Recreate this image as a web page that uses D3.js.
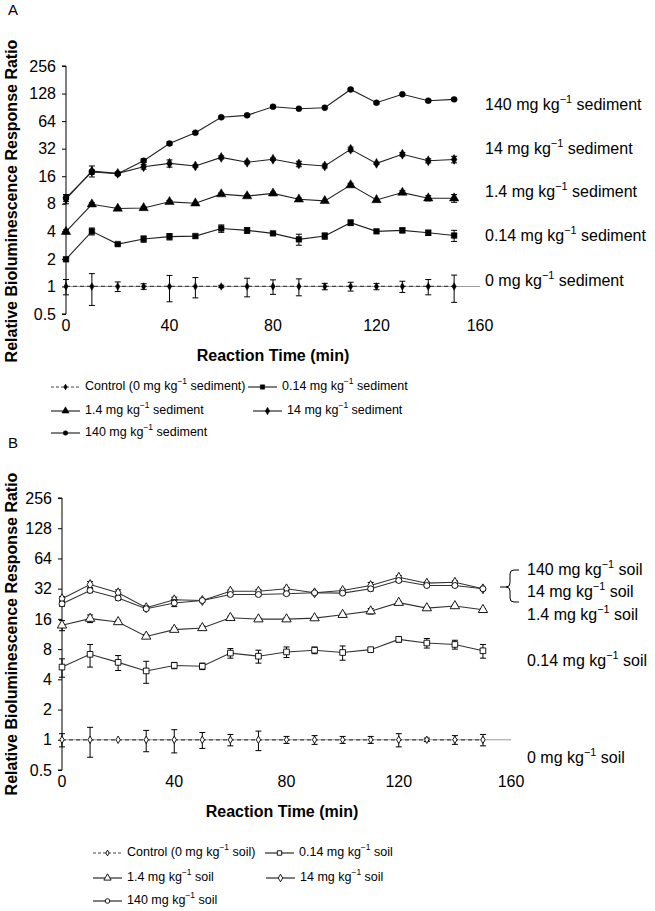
<!DOCTYPE html>
<html><head><meta charset="utf-8">
<script src="https://cdn.jsdelivr.net/npm/d3@7"></script>
<style>
html,body{margin:0;padding:0;background:#fff;}
svg{display:block;font-family:"Liberation Sans",Arial,Helvetica,sans-serif;}
</style></head>
<body>
<svg id="chart" width="655" height="911"></svg>
<script>
// ---------- DATA ----------
const times = [0,10,20,30,40,50,60,70,80,90,100,110,120,130,140,150];
const xTicks = [0,40,80,120,160];
const yTicks = [0.5,1,2,4,8,16,32,64,128,256];

// Panel A: sediment
const sedCtrl    = [1,1,1,1,1,1,1,1,1,1,1,1,1,1,1,1];
const sedCtrlErr = [0.19,0.38,0.12,0.07,0.32,0.25,0.03,0.23,0.18,0.21,0.08,0.11,0.08,0.14,0.19,0.33];
const sed014     = [1.98,4.0,2.9,3.3,3.5,3.55,4.3,4.1,3.8,3.27,3.56,4.97,4.0,4.1,3.86,3.6];
const sed014Err  = [0.1,0.35,0.08,0.26,0.28,0.08,0.4,0.3,0.1,0.45,0.28,0.35,0.1,0.25,0.25,0.5];
const sed1_4     = [3.96,7.9,7.1,7.2,8.4,8.1,10.2,9.7,10.4,8.95,8.6,12.8,8.8,10.6,9.2,9.2];
const sed1_4Err  = [0.2,0.3,0.2,0.2,0.3,0.2,0.3,0.3,0.3,0.3,0.2,0.6,0.2,0.5,0.6,0.9];
const sed14      = [9.0,18.2,17.2,20.3,22.1,20.7,25.7,22.7,24.5,21.8,20.7,31.5,22.1,27.8,23.6,24.4];
const sed14Err   = [1.0,2.5,0.6,1.2,2.0,0.6,1.0,0.8,0.7,1.5,1.0,1.8,0.6,1.3,1.2,2.0];
const sed140     = [9.3,17.8,17.0,23.6,36.5,47.8,70.4,74,92,87.5,89.7,142,101.6,125.5,107,110.6];
const sed140Err  = [0.8,0.9,0.5,1,1.5,1.5,2,2,3,2,2,4,3,3,3,3];

// Panel B: soil
const soilCtrl    = [1,1,1,1,1,1,1,1,1,1,1,1,1,1,1,1];
const soilCtrlErr = [0.15,0.33,0.02,0.24,0.26,0.18,0.13,0.22,0.08,0.1,0.08,0.08,0.15,0.04,0.1,0.13];
const soil014     = [5.3,7.1,5.9,4.85,5.5,5.4,7.3,6.8,7.5,7.8,7.4,7.9,10.0,9.2,8.9,7.7];
const soil014Err  = [1.1,1.8,1.0,1.2,0.4,0.4,0.8,1.0,0.9,0.6,1.2,0.3,0.6,1.0,0.9,1.2];
const soil1_4     = [13.8,16.1,14.9,10.7,12.5,13.0,16.4,15.9,15.9,16.3,17.6,19.1,23.2,20.5,21.5,19.7];
const soil1_4Err  = [1.6,1.4,0.6,0.4,0.5,0.6,0.6,0.4,0.5,0.4,0.6,1.2,0.7,0.5,0.6,0.6];
const soil14      = [25.4,35.2,29.1,20.7,24.8,24.4,30.2,30.2,31.9,29.1,30.7,34.4,41.6,36.3,37.1,31.9];
const soil14Err   = [1.2,2.5,2.0,0.8,1.5,0.6,0.8,1.2,1.0,0.8,1.0,2.5,1.5,1.0,1.2,1.0];
const soil140     = [22.6,30.7,25.8,20.2,23.0,24.4,28.0,28.0,28.5,29.1,28.9,31.9,38.6,34.4,34.4,31.9];
const soil140Err  = [1.2,1.5,1.2,0.8,1.8,0.8,1.0,1.0,1.0,0.8,1.0,1.5,1.5,1.0,1.0,1.0];

const sedLegend  = ["Control (0 mg kg|−1| sediment)","0.14 mg kg|−1| sediment","1.4 mg kg|−1| sediment","14 mg kg|−1| sediment","140 mg kg|−1| sediment"];
const soilLegend = ["Control (0 mg kg|−1| soil)","0.14 mg kg|−1| soil","1.4 mg kg|−1| soil","14 mg kg|−1| soil","140 mg kg|−1| soil"];
const sedLabels  = ["0 mg kg|−1| sediment","0.14 mg kg|−1| sediment","1.4 mg kg|−1| sediment","14 mg kg|−1| sediment","140 mg kg|−1| sediment"];
const soilLabels = ["0 mg kg|−1| soil","0.14 mg kg|−1| soil","1.4 mg kg|−1| soil","14 mg kg|−1| soil","140 mg kg|−1| soil"];

// ---------- DRAWING ----------
const svg = d3.select("#chart");
const symTypes = [d3.symbolDiamond, d3.symbolSquare, d3.symbolTriangle, d3.symbolDiamond, d3.symbolCircle];
const symSizes = [16, 32, 38, 28, 28];

function supText(sel, str, fs) {
  const parts = str.split("|");
  sel.append("tspan").text(parts[0]);
  sel.append("tspan").text(parts[1]).attr("font-size", fs*0.68).attr("dy", -fs*0.38);
  sel.append("tspan").text(parts[2]).attr("dy", fs*0.38);
}

function drawPanel(cfg) {
  const g = svg.append("g");
  const x = d3.scaleLinear().domain([0,160]).range([cfg.x0, cfg.x1]);
  const y = d3.scaleLog().base(2).domain([0.5,256]).range([cfg.yb, cfg.yt]);

  g.append("text").attr("x", 8).attr("y", cfg.labelY).attr("font-size", 15).text(cfg.label);

  // y axis
  const yAxis = g.append("g").attr("transform", `translate(${cfg.x0},0)`)
    .call(d3.axisLeft(y).tickValues(yTicks).tickFormat(d => String(d)).tickSize(4).tickPadding(6));
  yAxis.select(".domain").attr("stroke", "#000").attr("d", `M-4,${cfg.yt}H0V${cfg.yb}H-4`);
  yAxis.selectAll(".tick line").attr("stroke", "#000");
  yAxis.selectAll("text").attr("font-size", 16).attr("font-family", "Liberation Sans, Arial, sans-serif").attr("fill", "#000");

  // x axis line at y = 1, labels at bottom
  g.append("line").attr("x1", cfg.x0).attr("x2", x(160)).attr("y1", y(1)).attr("y2", y(1))
    .attr("stroke", "#999").attr("stroke-width", 1);
  g.selectAll(".xt").data(xTicks).enter().append("text")
    .attr("x", d => x(d)).attr("y", cfg.yb + 17).attr("text-anchor", "middle").attr("font-size", 16).text(d => d);

  g.append("text").attr("x", cfg.xTitleX).attr("y", cfg.yb + 47).attr("text-anchor", "middle")
    .attr("font-size", 16).attr("font-weight", "bold").text("Reaction Time (min)");
  g.append("text").attr("transform", `translate(17,${(cfg.yt+cfg.yb)/2 + cfg.yTitleOff}) rotate(-90)`)
    .attr("text-anchor", "middle").attr("font-size", 16).attr("font-weight", "bold")
    .text("Relative Bioluminescence Response Ratio");

  // series
  const line = d3.line().x((d,i) => x(times[i])).y(d => y(d));
  cfg.series.forEach((s, k) => {
    const sg = g.append("g");
    sg.append("path").attr("d", line(s.v)).attr("fill", "none")
      .attr("stroke", k === 0 ? "#444" : cfg.lineColor).attr("stroke-width", k === 0 ? 1.3 : 1.1)
      .attr("stroke-dasharray", k === 0 ? "4,3" : null);
    // error bars
    s.v.forEach((v, i) => {
      const e = s.e[i];
      const xx = x(times[i]);
      const yu = y(v + e), yl = y(Math.max(v - e, 0.05));
      if (Math.abs(yl - yu) < 2) return;
      sg.append("path").attr("d", `M${xx},${yu}V${yl}M${xx-3},${yu}H${xx+3}M${xx-3},${yl}H${xx+3}`)
        .attr("stroke", "#000").attr("stroke-width", 1).attr("fill", "none");
    });
    sg.selectAll(".m").data(s.v).enter().append("path")
      .attr("transform", (d,i) => `translate(${x(times[i])},${y(d)})`)
      .attr("d", d3.symbol().type(symTypes[k]).size(symSizes[k]))
      .attr("fill", cfg.open ? "#fff" : "#000").attr("stroke", "#000").attr("stroke-width", cfg.open ? 0.9 : 0.5);
  });

  // right labels
  cfg.rightLabels.forEach(r => {
    const t = g.append("text").attr("x", r.x).attr("y", r.y).attr("font-size", 16).attr("dominant-baseline", "middle");
    supText(t, r.s, 16);
  });

  // legend
  cfg.legend.forEach((s, k) => {
    const pos = cfg.legPos[k];
    const lg = g.append("g");
    lg.append("line").attr("x1", pos[0]).attr("x2", pos[0] + 29).attr("y1", pos[1]).attr("y2", pos[1])
      .attr("stroke", k === 0 ? "#444" : "#000").attr("stroke-width", 1).attr("stroke-dasharray", k === 0 ? "3,2" : null);
    lg.append("path").attr("transform", `translate(${pos[0] + 14.5},${pos[1]})`)
      .attr("d", d3.symbol().type(symTypes[k]).size(symSizes[k] * 0.6))
      .attr("fill", cfg.open ? "#fff" : "#000").attr("stroke", "#000").attr("stroke-width", cfg.open ? 0.9 : 0.5);
    const t = lg.append("text").attr("x", pos[0] + 34).attr("y", pos[1]).attr("font-size", 12.5).attr("dominant-baseline", "middle");
    supText(t, s, 12.5);
  });
  return {x, y};
}

drawPanel({
  label: "A", labelY: 15,
  x0: 66, x1: 480, yt: 66, yb: 314, xTitleX: 273, yTitleOff: 11,
  open: false, lineColor: "#222",
  series: [
    {v: sedCtrl, e: sedCtrlErr}, {v: sed014, e: sed014Err}, {v: sed1_4, e: sed1_4Err},
    {v: sed14, e: sed14Err}, {v: sed140, e: sed140Err}
  ],
  rightLabels: [
    {x: 485, y: 282, s: sedLabels[0]}, {x: 485, y: 237, s: sedLabels[1]}, {x: 485, y: 193, s: sedLabels[2]},
    {x: 485, y: 150, s: sedLabels[3]}, {x: 485, y: 106, s: sedLabels[4]}
  ],
  legend: sedLegend,
  legPos: [[51,387],[248,387],[51,411],[253,411],[51,433]]
});

drawPanel({
  label: "B", labelY: 448,
  x0: 62, x1: 511, yt: 498, yb: 770, xTitleX: 282, yTitleOff: 0,
  open: true, lineColor: "#333",
  series: [
    {v: soilCtrl, e: soilCtrlErr}, {v: soil014, e: soil014Err}, {v: soil1_4, e: soil1_4Err},
    {v: soil14, e: soil14Err}, {v: soil140, e: soil140Err}
  ],
  rightLabels: [
    {x: 527, y: 759, s: soilLabels[0]}, {x: 527, y: 662, s: soilLabels[1]}, {x: 527, y: 616, s: soilLabels[2]},
    {x: 527, y: 593, s: soilLabels[3]}, {x: 527, y: 571, s: soilLabels[4]}
  ],
  legend: soilLegend,
  legPos: [[93,853],[265,853],[93,878],[266,878],[93,901]]
});

// bracket for 140 / 14 soil labels
svg.append("path")
  .attr("d", "M519,570H514Q510,570 510,574V583Q510,587 506,587H500M506,587Q510,587 510,591V598Q510,602 514,602H519")
  .attr("fill", "none").attr("stroke", "#000").attr("stroke-width", 1);
</script>
</body></html>
